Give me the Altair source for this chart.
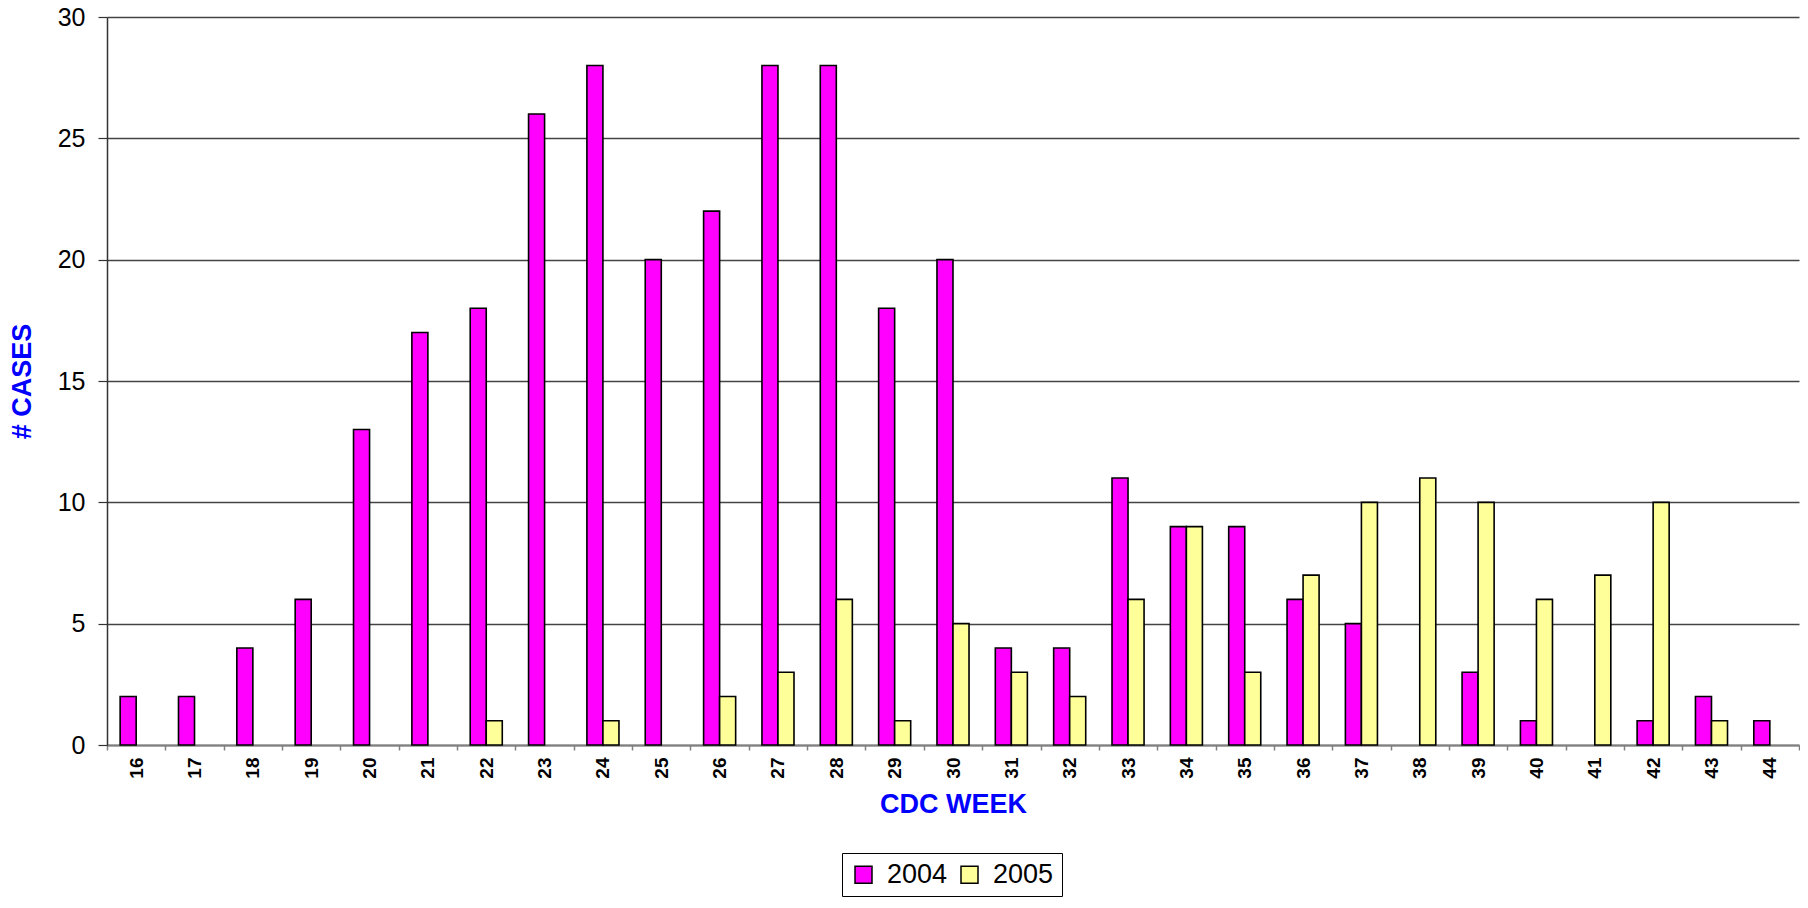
import altair as alt
import pandas as pd

weeks = [16, 17, 18, 19, 20, 21, 22, 23, 24, 25, 26, 27, 28, 29, 30,
         31, 32, 33, 34, 35, 36, 37, 38, 39, 40, 41, 42, 43, 44]
cases_2004 = [2, 2, 4, 6, 13, 17, 18, 26, 28, 20, 22, 28, 28, 18, 20,
              4, 4, 11, 9, 9, 6, 5, 0, 3, 1, 0, 1, 2, 1]
cases_2005 = [0, 0, 0, 0, 0, 0, 1, 0, 1, 0, 2, 3, 6, 1, 5,
              3, 2, 6, 9, 3, 7, 10, 11, 10, 6, 7, 10, 1, 0]
years = ["2004", "2005"]
colors = ["#FF00FF", "#FFFF99"]
y_ticks = [0, 5, 10, 15, 20, 25, 30]

rows = []
for w, a, b in zip(weeks, cases_2004, cases_2005):
    rows.append({"week": str(w), "year": years[0], "cases": a})
    rows.append({"week": str(w), "year": years[1], "cases": b})
df = pd.DataFrame(rows)
df = df[df["cases"] > 0]

FONT = "Liberation Sans"

chart = alt.Chart(df).mark_bar(stroke="black", strokeWidth=1.6).encode(
    x=alt.X("week:N", sort=[str(w) for w in weeks],
            scale=alt.Scale(domain=[str(w) for w in weeks], paddingInner=0, paddingOuter=0),
            axis=alt.Axis(title="CDC WEEK", labelAngle=270, labelFontSize=19,
                          labelFontWeight="bold", labelFont=FONT, labelColor="black",
                          labelPadding=7, tickBand="extent", tickSize=5,
                          tickColor="#808080", tickWidth=1.5,
                          domainColor="#808080", domainWidth=2,
                          titleFontSize=27, titleFont=FONT, titleFontWeight="bold",
                          titleColor="#0000FF", titlePadding=13, grid=False)),
    xOffset=alt.XOffset("year:N", scale=alt.Scale(domain=years, paddingOuter=0.82, paddingInner=0)),
    y=alt.Y("cases:Q", scale=alt.Scale(domain=[0, 30], nice=False),
            axis=alt.Axis(title="# CASES", values=y_ticks, labelFontSize=25, labelFont=FONT,
                          labelColor="black", labelPadding=13, tickSize=9,
                          tickColor="#333333", tickWidth=1.2,
                          domainColor="#333333", domainWidth=1.5,
                          grid=True, gridColor="#444444", gridWidth=1.3,
                          titleFontSize=27, titleFont=FONT, titleFontWeight="bold",
                          titleColor="#0000FF", titlePadding=21)),
    color=alt.Color("year:N", scale=alt.Scale(domain=years, range=colors),
                    legend=alt.Legend(title=None, orient="none", direction="horizontal",
                                      legendX=735, legendY=836,
                                      labelFontSize=27, labelFont=FONT, labelColor="black",
                                      symbolType="square", symbolSize=289,
                                      symbolStrokeColor="black", symbolStrokeWidth=1.5,
                                      symbolOpacity=1,
                                      strokeColor="black", padding=8,
                                      labelOffset=10, columnPadding=8)),
).properties(
    width=1692, height=728,
    autosize=alt.AutoSizeParams(type="none"),
    padding={"left": 99, "top": 9, "right": 1, "bottom": 154},
).configure_view(stroke=None)

chart.save("out.html", embed_options={"renderer": "svg", "actions": False})
